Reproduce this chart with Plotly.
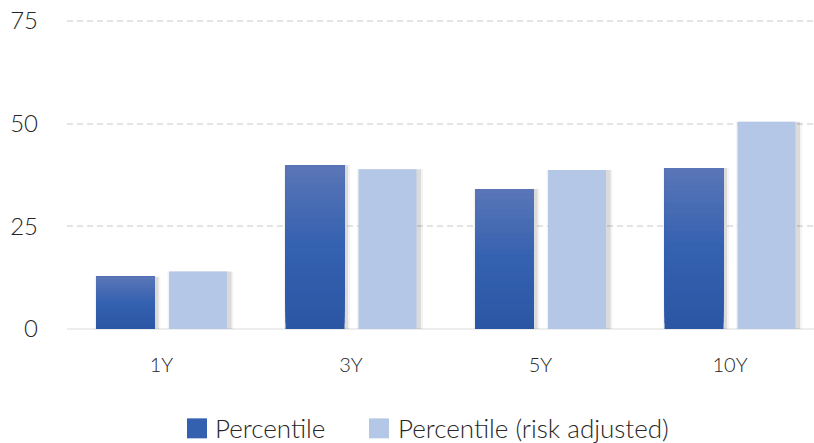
import plotly.graph_objects as go

# ---- data -------------------------------------------------------------
categories = ["1Y", "3Y", "5Y", "10Y"]
percentile = [12.7, 39.9, 34.1, 39.2]
percentile_risk_adj = [14.0, 38.9, 38.7, 50.5]
y_ticks = [0, 25, 50, 75]
series_names = ["Percentile", "Percentile (risk adjusted)"]

# ---- geometry helpers (pixels -> category units) ----------------------
W, H = 814, 443
M_L, M_R, M_T, M_B = 67, 0, 19, 113.5
PX_PER_CAT = 189.5
Y_MAX = 75.5


def cu(px):
    return px / PX_PER_CAT


BAR_W = cu(59)
DARK_OFF = cu(-65.5)
LIGHT_OFF = cu(7.5)
X_RANGE = [-(161.5 - M_L) / PX_PER_CAT, (W - M_R - 161.5) / PX_PER_CAT]

LIGHT = "#b4c7e7"
TEXT = "#262626"
FONT = "Lato"

# vertical gradient for the dark series (bottom -> top)
STOPS = [(0.0, (43, 86, 164)), (0.5, (52, 97, 176)), (1.0, (90, 118, 183))]


def grad(t):
    for (t0, c0), (t1, c1) in zip(STOPS[:-1], STOPS[1:]):
        if t <= t1:
            f = (t - t0) / (t1 - t0)
            return "rgb(%d,%d,%d)" % tuple(round(a + (b - a) * f) for a, b in zip(c0, c1))
    return "rgb(%d,%d,%d)" % STOPS[-1][1]


fig = go.Figure()

# soft drop shadows behind both series
for vals, off in ((percentile, DARK_OFF), (percentile_risk_adj, LIGHT_OFF)):
    fig.add_trace(go.Bar(
        x=categories, y=vals, offset=off - cu(1.5), width=BAR_W + cu(7),
        marker=dict(color="rgba(0,0,0,0.045)", line=dict(width=0)),
        showlegend=False, hoverinfo="skip"))
    fig.add_trace(go.Bar(
        x=categories, y=vals, offset=off + cu(1), width=BAR_W + cu(2.5),
        marker=dict(color="rgba(0,0,0,0.10)", line=dict(width=0)),
        showlegend=False, hoverinfo="skip"))

# dark series, drawn as stacked bands to build the gradient
N = 28
for k in range(N):
    fig.add_trace(go.Bar(
        x=categories,
        y=[v * (1 - k / N) for v in percentile],
        base=[v * k / N for v in percentile],
        offset=DARK_OFF, width=BAR_W,
        marker=dict(color=grad((k + 0.5) / N), line=dict(width=0)),
        name=series_names[0], showlegend=False,
        hovertemplate="%{x}: %{customdata}<extra>" + series_names[0] + "</extra>",
        customdata=percentile))

# light series
fig.add_trace(go.Bar(
    x=categories, y=percentile_risk_adj,
    offset=LIGHT_OFF, width=BAR_W - cu(1),
    marker=dict(color=LIGHT, line=dict(width=0)),
    name=series_names[1], showlegend=False))

# legend (drawn below the plot)
PH = H - M_T - M_B
PW = W - M_L - M_R


def px_x(px):
    return (px - M_L) / PW


def px_y(py):
    return (H - M_B - py) / PH


legend_items = [
    (187, 213, grad(0.45), series_names[0]),
    (369, 396, LIGHT, series_names[1]),
]
for sq_x, txt_x, col, label in legend_items:
    fig.add_shape(type="rect", xref="paper", yref="paper",
                  x0=px_x(sq_x), x1=px_x(sq_x + 20),
                  y0=px_y(439), y1=px_y(419),
                  fillcolor=col, line=dict(width=0))
    fig.add_annotation(xref="paper", yref="paper", x=px_x(txt_x), y=px_y(429),
                       xanchor="left", yanchor="middle", showarrow=False,
                       text=label, font=dict(family=FONT, size=26, color=TEXT, weight=300))

fig.update_layout(
    width=W, height=H,
    margin=dict(l=M_L, r=M_R, t=M_T, b=M_B, pad=0),
    barmode="overlay",
    paper_bgcolor="white", plot_bgcolor="white",
    showlegend=False,
    xaxis=dict(
        range=X_RANGE, showgrid=False, zeroline=False, showline=False,
        ticks="", ticklabelstandoff=22,
        tickfont=dict(family=FONT, size=20, color=TEXT, weight=300),
    ),
    yaxis=dict(
        range=[0, Y_MAX], tickvals=y_ticks,
        showgrid=True, gridcolor="#e4e4e4", gridwidth=1.5, griddash="6px,4px",
        zeroline=True, zerolinecolor="#ededed", zerolinewidth=2,
        showline=False, ticks="", ticklabelstandoff=28,
        tickfont=dict(family=FONT, size=24, color=TEXT, weight=300),
    ),
)

fig.write_html("out.html")
